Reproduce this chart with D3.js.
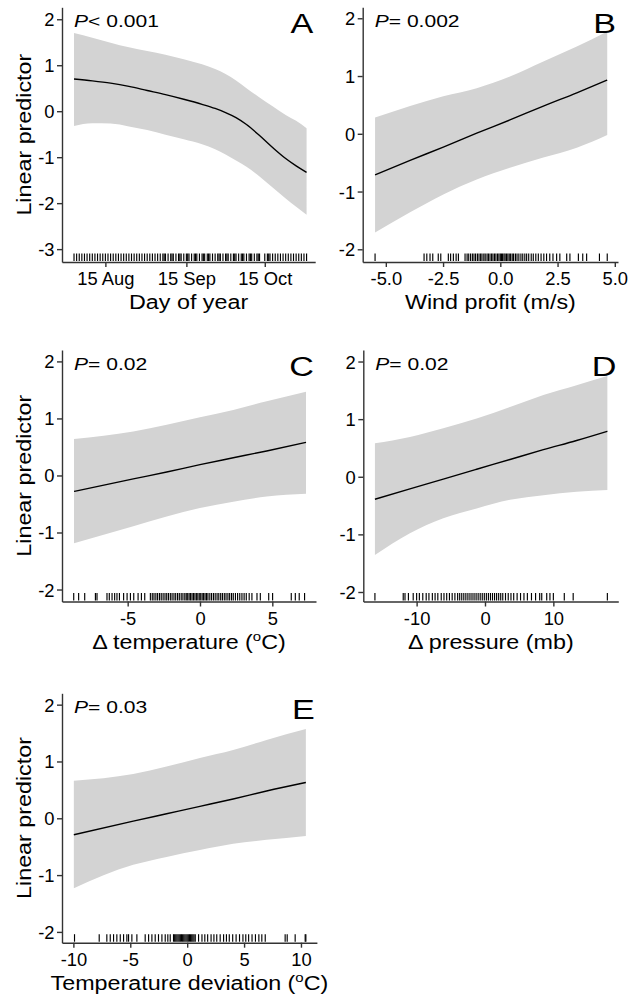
<!DOCTYPE html>
<html><head><meta charset="utf-8">
<script src="https://cdn.jsdelivr.net/npm/d3@7"></script>
<style>
body{margin:0;background:#fff}
svg{display:block}
text{font-family:"Liberation Sans",Arial,sans-serif;fill:#000}
</style>
</head><body>
<svg id="c" width="630" height="1006"></svg>
<script>
// ---------- Panel A : Day of year ----------
const dayA  = [215, 222, 229, 236, 243, 250, 257, 264, 269, 273, 277, 281, 286, 291, 296, 300, 304];
const fitA  = [0.70, 0.66, 0.61, 0.54, 0.45, 0.36, 0.26, 0.15, 0.06, -0.03, -0.14, -0.29, -0.53, -0.79, -1.03, -1.19, -1.33];
const hiA   = [1.70, 1.60, 1.49, 1.39, 1.31, 1.23, 1.13, 1.02, 0.92, 0.81, 0.67, 0.50, 0.30, 0.11, -0.08, -0.21, -0.37];
const loA   = [-0.32, -0.26, -0.27, -0.33, -0.41, -0.51, -0.61, -0.72, -0.83, -0.94, -1.07, -1.21, -1.42, -1.66, -1.90, -2.08, -2.25];
const rugA  = [215,216,217,218,219,220,221,222,223,224,225,226,227,228,229,230,231,232,233,234,235,236,237,238,239,240,
  241,242,243,244,245,246,247,248,249,250,251,252,253,254,255,256,257,258,259,260,261,262,263,264,265,266,267,268,269,270,
  271,272,273,274,275,276,277,278,279,280,281,282,283,284,285,286,288,289,290,291,292,293,294,295,296,297,298,299,300,301,302,303,304,
  249.5,252.5,255.5,258.5,261.5,264.5,266.5,270.5,273.5,276.5,279.5,282.5,285.5,289.5];
const xTicksA = [227, 258, 288];
const xTickLabelsA = ["15 Aug", "15 Sep", "15 Oct"];
const yTicksA = [-3, -2, -1, 0, 1, 2];

// ---------- Panel B : Wind profit ----------
const xB   = [-5.47, -3.94, -2.49, -1.03, 0.42, 1.88, 3.34, 4.67];
const fitB = [-0.71, -0.46, -0.23, 0.01, 0.24, 0.48, 0.71, 0.93];
const hiB  = [0.28, 0.48, 0.65, 0.79, 0.99, 1.25, 1.51, 1.77];
const loB  = [-1.71, -1.36, -1.05, -0.79, -0.59, -0.41, -0.24, -0.02];
const rugB = [-5.47, -3.33, -3.21, -3.07, -2.95, -2.71, -2.60, -2.27, -2.17, -2.05, -1.93, -1.83,
  -1.54,-1.45,-1.38,-1.30,-1.22,-1.15,-1.08,-1.00,-0.93,-0.86,-0.80,-0.72,-0.66,-0.58,-0.52,-0.45,-0.38,-0.32,-0.25,-0.19,
  -0.12,-0.06,0.00,0.05,0.10,0.16,0.21,0.27,0.33,0.39,0.45,0.52,0.58,0.66,0.73,0.81,0.90,0.98,1.07,1.15,1.24,1.35,1.44,
  1.55,1.66,1.78,1.90,2.02, 2.16, 2.30, 2.46, 2.60, 2.90, 3.04, 3.41, 3.60, 3.77, 4.33, 4.67];
const xTicksB = [-5, -2.5, 0, 2.5, 5];
const xTickLabelsB = ["-5.0", "-2.5", "0.0", "2.5", "5.0"];

// ---------- Panel C : Delta temperature ----------
const xC   = [-8.71, -4.61, -2.30, 0, 2.30, 4.61, 7.33];
const fitC = [-0.28, -0.06, 0.06, 0.19, 0.31, 0.43, 0.58];
const hiC  = [0.64, 0.77, 0.89, 1.02, 1.15, 1.30, 1.47];
const loC  = [-1.19, -0.89, -0.72, -0.57, -0.46, -0.37, -0.32];
const rugC = [-8.73,-8.39,-7.97,-7.23,-7.12,-6.43,-6.27,-6.08,-5.90,-5.74,-5.57,-5.28,-5.04,-4.81,-4.58,-4.28,-4.05,-3.82,
  -3.43,-3.30,-3.18,-3.05,-2.93,-2.80,-2.68,-2.55,-2.42,-2.30,-2.18,-2.05,-1.93,-1.80,-1.68,-1.55,-1.43,-1.30,-1.18,-1.05,
  -0.95,-0.85,-0.75,-0.65,-0.55,-0.45,-0.35,-0.25,-0.15,-0.05,0.05,0.15,0.25,0.35,0.45,0.55,0.68,0.80,0.93,1.05,1.18,1.30,
  1.43,1.55,1.68,1.80,1.93,2.05,2.18,2.30,2.45,2.60,2.75,2.90,3.05,3.20,3.40,3.59, 3.94,4.17,4.75,5.02,6.31,6.59,6.86,7.23];
const xTicksC = [-5, 0, 5];
const xTickLabelsC = ["-5", "0", "5"];

// ---------- Panel D : Delta pressure ----------
const xD   = [-16.1, -10.98, -6.1, -1.22, 3.66, 8.54, 13.4, 17.9];
const fitD = [-0.39, -0.21, -0.04, 0.13, 0.30, 0.47, 0.63, 0.79];
const hiD  = [0.58, 0.69, 0.84, 1.01, 1.21, 1.42, 1.59, 1.75];
const loD  = [-1.36, -0.98, -0.72, -0.55, -0.40, -0.32, -0.26, -0.23];
const rugD = [-16.1, -11.96, -11.7,-11.2,-10.5,-10.0,-9.6,-9.1,-8.6,-8.2,-7.7,-7.3,-6.9,-6.4,-6.0,-5.6,-5.2,-4.8,-4.4,-4.0,
  -3.7,-3.4,-3.1,-2.8,-2.5,-2.2,-1.9,-1.6,-1.3,-1.0,-0.7,-0.4,-0.1,0.2,0.5,0.8,1.1,1.4,1.7,2.0,2.3,2.6,3.0,3.4,3.8,4.2,4.7,
  5.2,5.7,6.2,6.8,7.4,8.0,8.3, 9.03, 9.5, 10.0, 11.6, 12.9, 17.9];
const xTicksD = [-10, 0, 10];
const xTickLabelsD = ["-10", "0", "10"];

// ---------- Panel E : Temperature deviation ----------
const xE   = [-9.96, -4.74, -1.81, 1.12, 4.04, 6.98, 10.43];
const fitE = [-0.29, -0.05, 0.08, 0.21, 0.34, 0.48, 0.63];
const hiE  = [0.66, 0.78, 0.91, 1.06, 1.20, 1.38, 1.57];
const loE  = [-1.23, -0.82, -0.68, -0.56, -0.45, -0.38, -0.31];
const rugE = [-9.9,-7.73,-7.06,-6.76,-6.47,-6.18,-5.88,-5.59,-5.30,-5.15,-4.86,-4.42,-3.69,-3.39,-3.10,-2.81,-2.52,-2.22,
  -1.93,-1.70,-1.49,-1.2,-1.1,-1.0,-0.9,-0.8,-0.7,-0.6,-0.5,-0.4,-0.3,-0.2,-0.1,0.0,0.1,0.2,0.3,0.4,0.5,0.6,0.71,
  1.0,1.3,1.55,1.8,2.1,2.35,2.6,2.9,3.2,3.45,3.7,4.0,4.3,4.6,4.9,5.15,5.4,5.7,6.0,6.3,6.56,6.86,8.61,8.79,9.49,10.37,10.43];
const xTicksE = [-10, -5, 0, 5, 10];
const xTickLabelsE = ["-10", "-5", "0", "5", "10"];

const yTicks = [-2, -1, 0, 1, 2];
const panelLetters = ["A", "B", "C", "D", "E"];
const pTexts = ["< 0.001", "= 0.002", "= 0.02", "= 0.02", "= 0.03"];
const xTitles = ["Day of year", "Wind profit (m/s)", "\u0394 temperature (\u00B0C)", "\u0394 pressure (mb)", "Temperature deviation (\u00B0C)"];
const yTitle = "Linear predictor";

// ---------- layout ----------
const font = '"Liberation Sans", Arial, sans-serif';
const axisCol = "#333";
const bandCol = "#d3d3d3";
const tickFS = 18, tickSX = 1.02;
const titleFS = 21, titleSX = 1.11;
const pFS = 17, pSX = 1.24;
const letterFS = 28, letterSX = 1.22;
const titleGap = [46.5, 46.5, 47, 47, 47];
const tickLabelY = 23.5;

const panels = [
  {x: dayA, fit: fitA, lo: loA, hi: hiA, rug: rugA, xd: [210.4, 307.3], xr: [62, 315.2], yd: [-3.28, 2.26], yr: [262, 7.3], xt: xTicksA, xtl: xTickLabelsA, yt: yTicksA, ylab: true},
  {x: xB, fit: fitB, lo: loB, hi: hiB, rug: rugB, xd: [-6.01, 5.14], xr: [362.7, 618], yd: [-2.22, 2.19], yr: [262, 7.3], xt: xTicksB, xtl: xTickLabelsB, yt: yTicks, ylab: false},
  {x: xC, fit: fitC, lo: loC, hi: hiC, rug: rugC, xd: [-9.54, 8.02], xr: [62, 316], yd: [-2.21, 2.2], yr: [601.5, 350], xt: xTicksC, xtl: xTickLabelsC, yt: yTicks, ylab: true},
  {x: xD, fit: fitD, lo: loD, hi: hiD, rug: rugD, xd: [-17.8, 19.5], xr: [363.3, 618.3], yd: [-2.165, 2.2], yr: [601.5, 350], xt: xTicksD, xtl: xTickLabelsD, yt: yTicks, ylab: false},
  {x: xE, fit: fitE, lo: loE, hi: hiE, rug: rugE, xd: [-11.0, 11.4], xr: [62, 316.9], yd: [-2.19, 2.2], yr: [942.7, 693.3], xt: xTicksE, xtl: xTickLabelsE, yt: yTicks, ylab: true}
];

const svg = d3.select("#c");
svg.append("rect").attr("width", 630).attr("height", 1006).attr("fill", "#fff");

function addTitle(g, str, x, y, rotate) {
  const t = g.append("text")
    .attr("transform", `translate(${x},${y})` + (rotate ? " rotate(-90)" : "") + ` scale(${titleSX},1)`)
    .attr("text-anchor", "middle").attr("font-size", titleFS).attr("font-family", font);
  const parts = str.split("\u00B0");
  t.append("tspan").text(parts[0]);
  if (parts.length > 1) {
    t.append("tspan").attr("font-size", 13.5).attr("dy", -8).text("o");
    t.append("tspan").attr("font-size", titleFS).attr("dy", 8).text(parts[1]);
  }
}

panels.forEach((p, i) => {
  const g = svg.append("g");
  const xs = d3.scaleLinear().domain(p.xd).range(p.xr);
  const ys = d3.scaleLinear().domain(p.yd).range(p.yr);
  const idx = d3.range(p.x.length);

  g.append("path")
    .attr("d", d3.area().x(j => xs(p.x[j])).y0(j => ys(p.lo[j])).y1(j => ys(p.hi[j])).curve(d3.curveMonotoneX)(idx))
    .attr("fill", bandCol).attr("stroke", "none");
  g.append("path")
    .attr("d", d3.line().x(j => xs(p.x[j])).y(j => ys(p.fit[j])).curve(d3.curveMonotoneX)(idx))
    .attr("fill", "none").attr("stroke", "#000").attr("stroke-width", 1.4);

  const base = p.yr[0];
  g.append("g").selectAll("line").data(p.rug).join("line")
    .attr("x1", d => xs(d)).attr("x2", d => xs(d))
    .attr("y1", base - 1).attr("y2", base - 8.5)
    .attr("stroke", "#000").attr("stroke-width", 1.15);

  const gx = g.append("g").attr("transform", `translate(0,${base})`)
    .call(d3.axisBottom(xs).tickValues(p.xt).tickFormat((d, k) => p.xtl[k]).tickSize(5).tickSizeOuter(0));
  gx.attr("font-size", tickFS).attr("font-family", font);
  gx.select(".domain").attr("stroke", axisCol).attr("stroke-width", 1.4);
  gx.selectAll(".tick line").attr("stroke", axisCol).attr("stroke-width", 1.4);
  gx.selectAll(".tick text").attr("y", tickLabelY).attr("dy", null).attr("fill", "#000")
    .attr("transform", `scale(${tickSX},1)`);

  const gy = g.append("g").attr("transform", `translate(${p.xr[0]},0)`)
    .call(d3.axisLeft(ys).tickValues(p.yt).tickFormat(d => String(d).replace("\u2212", "-")).tickSize(5).tickSizeOuter(0));
  gy.attr("font-size", tickFS).attr("font-family", font);
  gy.select(".domain").attr("stroke", axisCol).attr("stroke-width", 1.4);
  gy.selectAll(".tick line").attr("stroke", axisCol).attr("stroke-width", 1.4);
  gy.selectAll(".tick text").attr("x", -7.5 / tickSX).attr("dy", "0.36em").attr("fill", "#000")
    .attr("transform", `scale(${tickSX},1)`);

  const top = p.yr[1];
  const pt = g.append("text")
    .attr("transform", `translate(${p.xr[0] + 12},${top + 19.5}) scale(${pSX},1)`)
    .attr("font-size", pFS).attr("font-family", font);
  pt.append("tspan").attr("font-style", "italic").text("P");
  pt.append("tspan").text(pTexts[i]);

  g.append("text")
    .attr("transform", `translate(${p.xr[1] - 2},${top + 26}) scale(${letterSX},1)`)
    .attr("text-anchor", "end").attr("font-size", letterFS).attr("font-family", font)
    .text(panelLetters[i]);

  addTitle(g, xTitles[i], (p.xr[0] + p.xr[1]) / 2, base + titleGap[i], false);
  if (p.ylab) addTitle(g, yTitle, 31, (p.yr[0] + p.yr[1]) / 2, true);
});
</script>
</body></html>
